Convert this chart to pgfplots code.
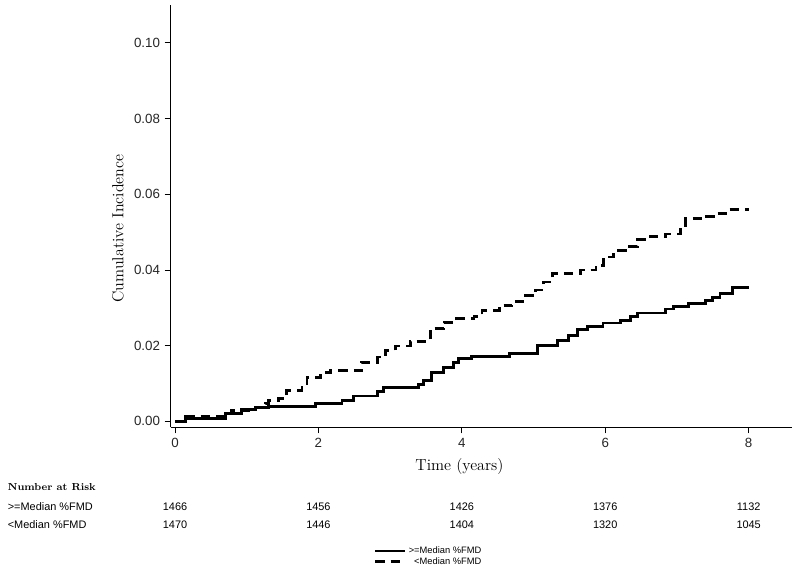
\documentclass[border=0pt]{standalone}
\usepackage{fontspec}
\usepackage{pgfplots}
\pgfplotsset{compat=1.18}
\newfontfamily\sansfnt{Liberation Sans}

% cumulative incidence, step curves
\pgfplotstableread{
t v
0 0
0.15 0.0007
0.70 0.0020
0.93 0.0031
1.12 0.0036
1.30 0.0040
1.96 0.0047
2.33 0.0055
2.49 0.0067
2.82 0.0078
2.91 0.0089
3.40 0.0098
3.46 0.0108
3.58 0.0130
3.74 0.0143
3.88 0.0156
3.95 0.0165
4.14 0.0171
4.66 0.0179
5.05 0.0200
5.33 0.0213
5.49 0.0227
5.61 0.0242
5.75 0.0251
5.97 0.0260
6.21 0.0266
6.35 0.0278
6.45 0.0286
6.84 0.0297
6.95 0.0304
7.16 0.0312
7.40 0.0319
7.50 0.0328
7.60 0.0337
7.78 0.0353
8.00 0.0353
}\hiFMD

\pgfplotstableread{
t v
0 0
0.15 0.0013
0.70 0.0020
0.79 0.0029
1.12 0.0038
1.26 0.0048
1.30 0.0055
1.44 0.0060
1.56 0.0082
1.77 0.0095
1.84 0.0115
2.03 0.0130
2.17 0.0135
2.60 0.0156
2.82 0.0170
2.93 0.0187
3.07 0.0199
3.28 0.0212
3.56 0.0245
3.75 0.0262
3.93 0.0271
4.17 0.0277
4.28 0.0293
4.52 0.0306
4.70 0.0317
4.87 0.0332
5.03 0.0347
5.14 0.0368
5.26 0.0390
5.66 0.0400
5.87 0.0412
5.98 0.0434
6.12 0.0451
6.31 0.0462
6.45 0.0480
6.63 0.0489
6.84 0.0495
7.05 0.0513
7.12 0.0535
7.33 0.0542
7.54 0.0550
7.72 0.0559
8.00 0.0559
}\loFMD

\begin{document}
\begin{tikzpicture}[risk/.style={font=\sansfnt\fontsize{8.2}{9}\selectfont}]
\begin{axis}[
    scale only axis,
    width=466pt, height=317pt,
    xmin=-0.06, xmax=8.6,
    ymin=-0.0016, ymax=0.11,
    axis lines*=left,
    axis line style={line width=0.6pt},
    xtick={0,2,4,6,8},
    ytick={0,0.02,0.04,0.06,0.08,0.10},
    tick align=outside,
    major tick length=4.5pt,
    tick style={black, line width=0.6pt},
    /pgf/number format/assume math mode=true,
    ticklabel style={font=\sansfnt\fontsize{10}{12}\selectfont, text=black!85},
    yticklabel style={/pgf/number format/.cd, fixed, fixed zerofill, precision=2},
    xlabel={Time (years)},
    ylabel={Cumulative Incidence},
    label style={font=\fontsize{12}{14}\selectfont},
    xlabel style={at={(axis description cs:0.465,-0.0923)}, anchor=center},
    ylabel style={at={(axis description cs:-0.0849,0.471)}, anchor=center},
    clip=false,
    legend cell align=right,
    legend style={at={(axis description cs:0.416,-0.272)}, anchor=north,
        draw=none, fill=none, font=\sansfnt\fontsize{7}{7.5}\selectfont,
        row sep=-2.5pt, inner sep=1pt},
    legend image code/.code={\draw[#1] (0pt,0pt) -- (22pt,0pt);},
]

\addplot[const plot, black, line width=2.1pt] table[x=t, y=v] {\hiFMD};
\addlegendentry{{>=Median \%FMD}}
\addplot[const plot, black, line width=2.1pt, dash pattern=on 7pt off 4.5pt] table[x=t, y=v] {\loFMD};
\addlegendentry{{<Median \%FMD}}

% number at risk table
\node[anchor=west, font=\bfseries\fontsize{7.6}{9}\selectfont] at (axis cs:-2.397,-0.0173) {Number at Risk};
\node[risk, anchor=west] at (axis cs:-2.397,-0.02256) {>=Median \%FMD};
\node[risk, anchor=west] at (axis cs:-2.397,-0.0273) {<Median \%FMD};
\node[risk] at (axis cs:0,-0.02256) {1466};
\node[risk] at (axis cs:2,-0.02256) {1456};
\node[risk] at (axis cs:4,-0.02256) {1426};
\node[risk] at (axis cs:6,-0.02256) {1376};
\node[risk] at (axis cs:8,-0.02256) {1132};
\node[risk] at (axis cs:0,-0.0273) {1470};
\node[risk] at (axis cs:2,-0.0273) {1446};
\node[risk] at (axis cs:4,-0.0273) {1404};
\node[risk] at (axis cs:6,-0.0273) {1320};
\node[risk] at (axis cs:8,-0.0273) {1045};

\coordinate (bl) at (rel axis cs:-0.2749,-0.3485);
\coordinate (tr) at (rel axis cs:1.0134,1.0118);
\end{axis}
\path (bl) rectangle (tr);
\end{tikzpicture}
\end{document}
